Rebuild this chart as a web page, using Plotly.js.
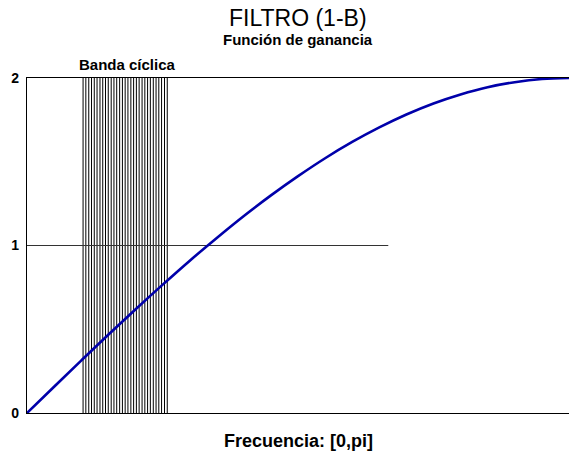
<!DOCTYPE html>
<html>
<head>
<meta charset="utf-8">
<script src="https://cdn.plot.ly/plotly-3.0.1.min.js"></script>
<style>html,body{margin:0;padding:0;background:#fff;}#chart{width:569px;height:454px;}</style>
</head>
<body>
<div id="chart"></div>
<script>
// Frequency (radians, 0..pi) and gain of the (1-B) filter
const freq = [0, 0.157, 0.314, 0.471, 0.628, 0.785, 0.942, 1.100, 1.257, 1.414, 1.571,
              1.728, 1.885, 2.042, 2.199, 2.356, 2.513, 2.670, 2.827, 2.985, 3.1416];
const gain = [0, 0.157, 0.313, 0.467, 0.618, 0.765, 0.908, 1.045, 1.176, 1.299, 1.414,
              1.521, 1.618, 1.705, 1.782, 1.848, 1.902, 1.945, 1.975, 1.994, 2.0];
// Vertical lines marking the cyclical band
const bandFreq = [0.325, 0.341, 0.358, 0.374, 0.390, 0.406, 0.423, 0.439, 0.455, 0.471,
                  0.488, 0.504, 0.520, 0.537, 0.553, 0.569, 0.585, 0.602, 0.618, 0.634,
                  0.650, 0.667, 0.683, 0.699, 0.715, 0.732, 0.748, 0.764, 0.780, 0.797, 0.813];
const bandBottom = 0, bandTop = 2;
// Reference line at gain 1
const refX = [0, 2.094];
const refY = [1, 1];
const yTicks = [0, 1, 2];
const yTickText = ['0', '1', '2'];

const bx = [], by = [];
bandFreq.forEach(f => { bx.push(f, f, null); by.push(bandBottom, bandTop, null); });

const traces = [
  {x: bx, y: by, type: 'scatter', mode: 'lines', line: {color: '#000', width: 1}, hoverinfo: 'skip', showlegend: false},
  {x: refX, y: refY, type: 'scatter', mode: 'lines', line: {color: '#333', width: 1.2}, showlegend: false},
  {x: freq, y: gain, type: 'scatter', mode: 'lines', line: {color: '#0000aa', width: 2.6, shape: 'spline'}, showlegend: false}
];

const layout = {
  width: 569, height: 454,
  margin: {l: 27, r: 0, t: 78, b: 41},
  paper_bgcolor: '#fff', plot_bgcolor: '#fff',
  font: {family: 'Liberation Sans, Arial, sans-serif', color: '#000'},
  showlegend: false,
  xaxis: {range: [0, Math.PI], showgrid: false, zeroline: false, showticklabels: false, ticks: '',
          showline: true, mirror: true, linecolor: '#000', linewidth: 1.2, fixedrange: true},
  yaxis: {range: [0, 2], showgrid: false, zeroline: false, tickvals: yTicks, ticktext: yTickText, ticks: '',
          ticklabelstandoff: 4, tickfont: {size: 14, family: 'Liberation Sans, Arial, sans-serif', weight: 'bold'},
          showline: true, linecolor: '#000', linewidth: 1.2, fixedrange: true},
  annotations: [
    {text: 'FILTRO (1-B)', xref: 'paper', yref: 'paper', x: 0.5, y: 1 + (78 - 18) / 335,
     xanchor: 'center', yanchor: 'middle', showarrow: false, font: {size: 23}},
    {text: '<b>Función de ganancia</b>', xref: 'paper', yref: 'paper', x: 0.5, y: 1 + (78 - 40) / 335,
     xanchor: 'center', yanchor: 'middle', showarrow: false, font: {size: 15}},
    {text: '<b>Banda cíclica</b>', xref: 'paper', yref: 'paper', x: (127 - 27) / 542, y: 1 + (78 - 64) / 335,
     xanchor: 'center', yanchor: 'middle', showarrow: false, font: {size: 15}},
    {text: '<b>Frecuencia: [0,pi]</b>', xref: 'paper', yref: 'paper', x: 0.5, y: -(441 - 413) / 335,
     xanchor: 'center', yanchor: 'middle', showarrow: false, font: {size: 18}}
  ]
};

Plotly.newPlot('chart', traces, layout, {staticPlot: true, displayModeBar: false});
</script>
</body>
</html>
